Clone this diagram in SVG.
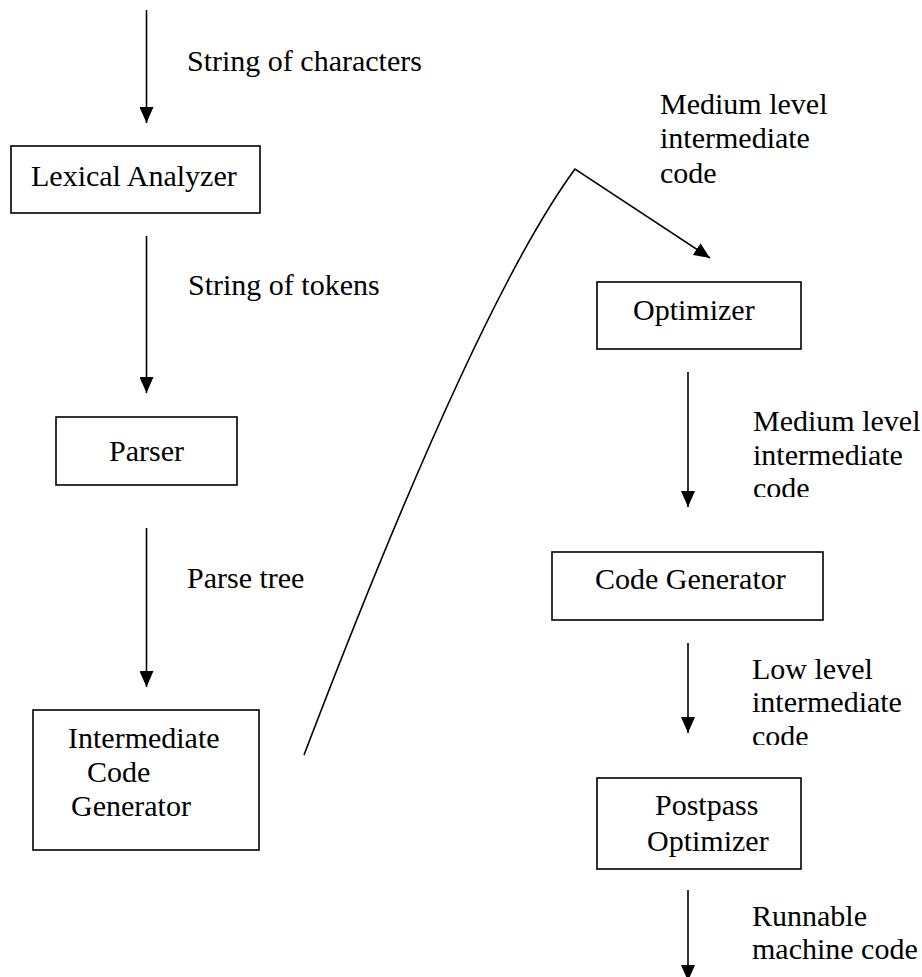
<svg xmlns="http://www.w3.org/2000/svg" width="922" height="977" viewBox="0 0 922 977">
  <style>
    text { font-family: "Liberation Serif", "Times New Roman", serif; font-size: 30px; fill: #000; }
    .box { fill: #fff; stroke: #000; stroke-width: 1.6; }
    .wire { fill: none; stroke: #000; stroke-width: 1.6; }
    .mid { text-anchor: middle; }
  </style>
  <defs>
    <marker id="head" viewBox="0 0 16 14" refX="16" refY="7" markerWidth="16" markerHeight="14" markerUnits="userSpaceOnUse" orient="auto">
      <path d="M0,0 L16,7 L0,14 Z" fill="#000"/>
    </marker>
    <!-- text frames that cut off the bottom of their last line -->
    <clipPath id="frame-mid"><rect x="740" y="395" width="182" height="102"/></clipPath>
    <clipPath id="frame-low"><rect x="740" y="645" width="182" height="100"/></clipPath>
  </defs>

  <!-- connectors -->
  <g id="connectors">
    <line class="wire" x1="146.5" y1="10" x2="146.5" y2="123" marker-end="url(#head)"/>
    <line class="wire" x1="146.5" y1="236" x2="146.5" y2="393" marker-end="url(#head)"/>
    <line class="wire" x1="146.5" y1="528" x2="146.5" y2="687" marker-end="url(#head)"/>
    <path class="wire" d="M304,755 Q476,304 575,169 L710,258" marker-end="url(#head)"/>
    <line class="wire" x1="688" y1="372" x2="688" y2="507" marker-end="url(#head)"/>
    <line class="wire" x1="688" y1="643" x2="688" y2="733" marker-end="url(#head)"/>
    <line class="wire" x1="688" y1="890" x2="688" y2="981" marker-end="url(#head)"/>
  </g>

  <!-- edge labels -->
  <g id="labels">
    <text x="187" y="71">String of characters</text>
    <text x="188" y="295">String of tokens</text>
    <text x="187" y="588">Parse tree</text>
    <text x="660" y="114">Medium level</text>
    <text x="660" y="148">intermediate</text>
    <text x="660" y="183">code</text>
    <g clip-path="url(#frame-mid)">
      <text x="753" y="431">Medium level</text>
      <text x="753" y="465">intermediate</text>
      <text x="753" y="498">code</text>
    </g>
    <g clip-path="url(#frame-low)">
      <text x="752" y="679">Low level</text>
      <text x="752" y="712">intermediate</text>
      <text x="752" y="746">code</text>
    </g>
    <text x="752" y="926">Runnable</text>
    <text x="752" y="959">machine code</text>
  </g>

  <!-- nodes -->
  <g id="lexical-analyzer">
    <rect class="box" x="11" y="146" width="249" height="67"/>
    <text x="31" y="186">Lexical Analyzer</text>
  </g>
  <g id="parser">
    <rect class="box" x="56" y="417" width="181" height="68"/>
    <text class="mid" x="146.5" y="461">Parser</text>
  </g>
  <g id="intermediate-code-generator">
    <rect class="box" x="33" y="710" width="226" height="140"/>
    <text x="68" y="748">Intermediate</text>
    <text x="87" y="782">Code</text>
    <text x="71" y="816">Generator</text>
  </g>
  <g id="optimizer">
    <rect class="box" x="597" y="282" width="204" height="67"/>
    <text x="633" y="320">Optimizer</text>
  </g>
  <g id="code-generator">
    <rect class="box" x="552" y="552" width="271" height="68"/>
    <text x="595" y="589">Code Generator</text>
  </g>
  <g id="postpass-optimizer">
    <rect class="box" x="597" y="778" width="204" height="91"/>
    <text x="655" y="815">Postpass</text>
    <text x="647" y="851">Optimizer</text>
  </g>
</svg>
